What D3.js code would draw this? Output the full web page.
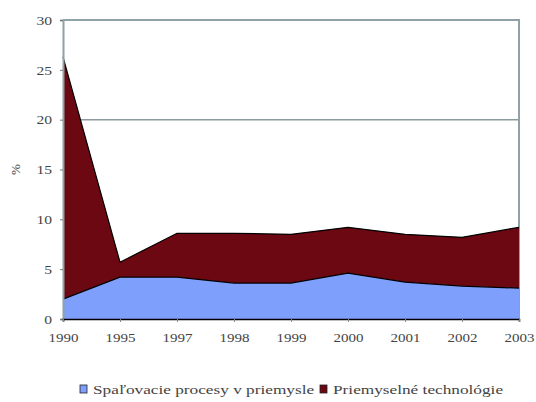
<!DOCTYPE html>
<html>
<head>
<meta charset="utf-8">
<script src="https://cdn.jsdelivr.net/npm/d3@7"></script>
<style>
  body { margin: 0; background: #fff; }
</style>
</head>
<body>
<div id="chart"></div>
<script>
// roky na osi x
const years = ['1990', '1995', '1997', '1998', '1999', '2000', '2001', '2002', '2003']
// Spaľovacie procesy v priemysle (%)
const combustion = [2.0, 4.2, 4.2, 3.6, 3.6, 4.6, 3.7, 3.3, 3.1]
// Priemyselné technológie (%)
const technology = [24.3, 1.5, 4.4, 5.0, 4.9, 4.6, 4.8, 4.9, 6.1]
const yTicks = [0, 5, 10, 15, 20, 25, 30]
const seriesNames = ['Spaľovacie procesy v priemysle', 'Priemyselné technológie']
const colors = ['#7f9ffd', '#6c0812']

const font = '"Liberation Serif", "DejaVu Serif", "Times New Roman", serif'
const w = 536, h = 402
const margin = {left: 63, right: 17, top: 20, bottom: 83}

// text v originále je vodorovne roztiahnutý
function stretch(sel, k) {
    sel.each(function () {
        let len = this.getComputedTextLength()
        d3.select(this)
            .attr('textLength', len * k)
            .attr('lengthAdjust', 'spacingAndGlyphs')
    })
}

const svg = d3.select('#chart').append('svg')
    .attr('width', w)
    .attr('height', h)

const x = d3.scalePoint()
    .domain(years)
    .range([margin.left, w - margin.right])

const y = d3.scaleLinear()
    .domain([0, 30])
    .range([h - margin.bottom, margin.top])

const rows = years.map((yr, i) => ({year: yr, a: combustion[i], b: technology[i]}))
const stacked = d3.stack().keys(['a', 'b'])(rows)

// mriežka a rám
svg.append('line')
    .attr('x1', margin.left).attr('x2', w - margin.right)
    .attr('y1', y(20)).attr('y2', y(20))
    .attr('stroke', '#8a9a9e').attr('stroke-width', 1.5)
svg.append('path')
    .attr('d', `M${margin.left},${y(30)}H${w - margin.right}V${y(0)}`)
    .attr('fill', 'none')
    .attr('stroke', '#8ea2a8').attr('stroke-width', 2)

const area = d3.area()
    .x(d => x(d.data.year))
    .y0(d => y(d[0]))
    .y1(d => y(d[1]))

const line = d3.line()
    .x(d => x(d.data.year))
    .y(d => y(d[1]))

svg.selectAll('.area')
    .data(stacked)
    .enter()
    .append('path')
    .attr('class', 'area')
    .attr('d', area)
    .attr('fill', (d, i) => colors[i])

svg.selectAll('.top-line')
    .data(stacked)
    .enter()
    .append('path')
    .attr('class', 'top-line')
    .attr('d', line)
    .attr('fill', 'none')
    .attr('stroke', '#000')
    .attr('stroke-width', 1.2)

// osi
const yAxis = svg.append('g')
    .attr('transform', `translate(${margin.left},0)`)
    .call(d3.axisLeft(y).tickValues(yTicks).tickSize(3).tickPadding(8))
yAxis.attr('font-family', font)
yAxis.select('.domain').attr('stroke', '#8ea2a8').attr('stroke-width', 2)
yAxis.selectAll('line').attr('stroke', '#777')
yAxis.selectAll('text').attr('font-family', font).style('font-size', '13px').style('fill', '#444')
    .call(stretch, 1.2)

const xAxis = svg.append('g')
    .attr('transform', `translate(0,${y(0)})`)
    .call(d3.axisBottom(x).tickSize(3).tickPadding(11))
xAxis.attr('font-family', font)
xAxis.select('.domain').attr('stroke', '#000').attr('stroke-width', 1.5)
xAxis.selectAll('line').attr('stroke', '#888')
xAxis.selectAll('text').attr('font-family', font).style('font-size', '12px').style('fill', '#444')
    .call(stretch, 1.25)

svg.append('text')
    .attr('transform', `translate(20,${y(15)}) rotate(-90)`)
    .attr('text-anchor', 'middle')
    .attr('font-family', font)
    .style('font-size', '13px')
    .style('fill', '#444')
    .text('%')

// legenda
const legend = svg.append('g').attr('transform', 'translate(0,394)')
const legendX = [80, 320]
seriesNames.forEach((name, i) => {
    legend.append('rect')
        .attr('x', legendX[i]).attr('y', -9)
        .attr('width', 7).attr('height', 8)
        .attr('fill', colors[i])
        .attr('stroke', '#222').attr('stroke-width', 0.8)
    legend.append('text')
        .attr('x', legendX[i] + 13).attr('y', 0)
        .attr('font-family', font)
        .style('font-size', '12.5px')
        .style('fill', '#444')
        .text(name)
        .call(stretch, 1.38)
})
</script>
</body>
</html>
